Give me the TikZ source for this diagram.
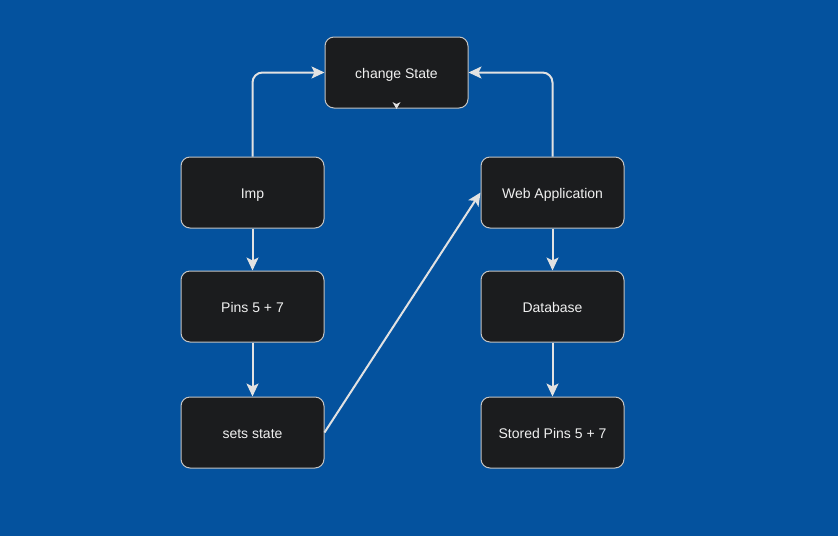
\documentclass[tikz,border=0pt]{standalone}
\usepackage{fontspec}
\setmainfont{Liberation Sans}
\usetikzlibrary{arrows.meta}
\definecolor{bg}{HTML}{04529E}
\definecolor{boxfill}{HTML}{1B1C1E}
\definecolor{boxline}{HTML}{C4C4C4}
\definecolor{txt}{HTML}{F0F0F0}
\definecolor{lineclr}{HTML}{E2E2E2}
\begin{document}
\begin{tikzpicture}[x=1pt,y=-1pt,
  box/.style={draw=boxline, fill=boxfill, rounded corners=9pt, minimum width=143pt, minimum height=71pt, line width=1pt, text=txt, font=\fontsize{14}{16}\selectfont, inner sep=0pt, text height=12pt, text depth=0pt},
  conn/.style={draw=lineclr, line width=2pt, rounded corners=10pt, -{Stealth[length=13pt,width=12pt,inset=3pt]}}]
\fill[bg] (0,0) rectangle (838,536);
\useasboundingbox (0,0) rectangle (838,536);
\node[box] (cs) at (396.5,72.5) {change State};
\node[box] (imp) at (252.5,192.5) {Imp};
\node[box] (pins) at (252.5,306.5) {Pins 5 + 7};
\node[box] (sets) at (252.5,432.5) {sets state};
\node[box] (web) at (552.5,192.5) {Web Application};
\node[box] (db) at (552.5,306.5) {Database};
\node[box] (stored) at (552.5,432.5) {Stored Pins 5 + 7};
\draw[conn] (imp.north) |- (cs.west);
\draw[conn] (web.north) |- (cs.east);
\draw[conn] (imp) -- (pins);
\draw[conn] (pins) -- (sets);
\draw[conn] (sets.east) -- (web.west);
\draw[conn] (web) -- (db);
\draw[conn] (db) -- (stored);
\fill[lineclr] (392.5,102) -- (396.5,109) -- (400.5,102) -- (396.5,104) -- cycle;
\end{tikzpicture}
\end{document}
